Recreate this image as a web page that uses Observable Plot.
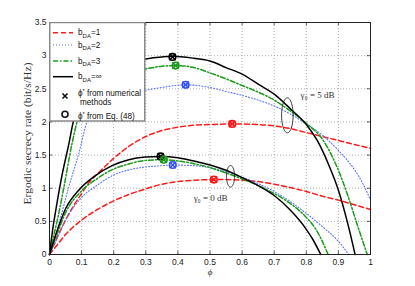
<!DOCTYPE html>
<html><head><meta charset="utf-8">
<script src="https://cdn.jsdelivr.net/npm/d3@7"></script>
<script src="https://cdn.jsdelivr.net/npm/@observablehq/plot@0.6"></script>
<style>
html,body{margin:0;padding:0;background:#fff;}
#wrap{position:relative;width:415px;height:286px;overflow:hidden;}
#legend{position:absolute;left:49px;top:22px;}
</style></head><body>
<div id="wrap"></div>
<script>
// ---- tick labels ----
const xTicks = [0,0.1,0.2,0.3,0.4,0.5,0.6,0.7,0.8,0.9,1];
const xTickLabels = ["0","0.1","0.2","0.3","0.4","0.5","0.6","0.7","0.8","0.9","1"];
const yTicks = [0,0.5,1,1.5,2,2.5,3,3.5];
const yTickLabels = ["0","0.5","1","1.5","2","2.5","3","3.5"];

// ---- gamma0 = 5 dB curves ----
const phi_g5_inf  = [0,0.005,0.01,0.02,0.04,0.06,0.074,0.1,0.15,0.2,0.25,0.3,0.35,0.383,0.45,0.5,0.55,0.6,0.65,0.7,0.75,0.8,0.834,0.87,0.9,0.93,0.952];
const rate_g5_inf = [0,0.2,0.38,0.68,1.22,1.66,2.0,2.3,2.62,2.8,2.9,2.95,2.98,2.99,2.96,2.92,2.82,2.72,2.57,2.42,2.2,1.96,1.72,1.35,0.97,0.45,0];
const phi_g5_b3   = [0,0.01,0.024,0.045,0.07,0.086,0.1,0.15,0.2,0.25,0.3,0.35,0.393,0.45,0.5,0.55,0.6,0.65,0.7,0.74,0.8,0.85,0.9,0.93,0.96,0.99];
const rate_g5_b3  = [0,0.22,0.51,1.02,1.67,2.0,2.18,2.5,2.66,2.75,2.8,2.84,2.85,2.82,2.74,2.65,2.55,2.45,2.33,2.2,1.98,1.74,1.27,0.88,0.43,0];
const phi_g5_b2   = [0,0.01,0.029,0.06,0.091,0.117,0.15,0.2,0.25,0.3,0.35,0.424,0.5,0.55,0.6,0.65,0.7,0.75,0.8,0.85,0.9,0.95,0.975,1.0];
const rate_g5_b2  = [0,0.16,0.46,1.02,1.52,2.0,2.2,2.36,2.44,2.48,2.52,2.56,2.52,2.46,2.4,2.33,2.24,2.12,1.97,1.8,1.57,1.28,1.08,0.82];
const phi_g5_b1   = [0,0.029,0.05,0.076,0.1,0.122,0.15,0.2,0.25,0.3,0.35,0.4,0.45,0.5,0.569,0.65,0.7,0.75,0.8,0.85,0.9,0.95,1.0];
const rate_g5_b1  = [0,0.31,0.52,0.74,0.92,1.08,1.22,1.45,1.64,1.78,1.87,1.92,1.95,1.96,1.97,1.96,1.94,1.9,1.84,1.78,1.72,1.66,1.6];

// ---- gamma0 = 0 dB curves ----
const phi_g0_inf  = [0,0.019,0.05,0.091,0.143,0.195,0.247,0.299,0.346,0.4,0.45,0.5,0.55,0.6,0.65,0.7,0.75,0.8,0.82,0.845];
const rate_g0_inf = [0,0.29,0.69,0.97,1.19,1.34,1.43,1.47,1.48,1.46,1.41,1.35,1.27,1.16,1.04,0.89,0.67,0.38,0.23,0];
const phi_g0_b3   = [0,0.02,0.05,0.1,0.15,0.2,0.25,0.3,0.355,0.4,0.45,0.5,0.55,0.6,0.65,0.7,0.75,0.8,0.83,0.868];
const rate_g0_b3  = [0,0.26,0.63,0.96,1.15,1.29,1.37,1.42,1.43,1.41,1.37,1.31,1.23,1.14,1.04,0.92,0.77,0.56,0.38,0];
const phi_g0_b2   = [0,0.02,0.05,0.1,0.15,0.2,0.25,0.3,0.35,0.384,0.45,0.5,0.55,0.6,0.65,0.7,0.75,0.8,0.85,0.9,0.932];
const rate_g0_b2  = [0,0.2,0.52,0.86,1.05,1.2,1.28,1.32,1.34,1.35,1.34,1.31,1.25,1.17,1.07,0.95,0.8,0.62,0.42,0.2,0];
const phi_g0_b1   = [0,0.02,0.05,0.1,0.15,0.2,0.25,0.3,0.35,0.4,0.45,0.512,0.55,0.6,0.65,0.7,0.75,0.8,0.85,0.9,0.95,1.0];
const rate_g0_b1  = [0,0.12,0.3,0.52,0.68,0.81,0.91,0.99,1.06,1.1,1.12,1.13,1.13,1.12,1.1,1.06,1.01,0.95,0.88,0.82,0.75,0.68];

// ---- optimum markers ----
const optSeries = ["inf","b3","b2","b1","inf","b3","b2","b1"];
const optPhi    = [0.383,0.393,0.424,0.569,0.346,0.356,0.384,0.512];
const optRate   = [2.98,2.85,2.56,1.97,1.48,1.43,1.35,1.13];

// ---- annotations ----
const annoText = ["γ₀ = 5 dB","γ₀ = 0 dB"];
const annoPhi  = [0.782,0.449];
const annoRate = [2.41,0.845];
const ellCenterPhi  = [0.741,0.564];
const ellCenterRate = [2.10,1.18];
const ellRadPhi     = [0.018,0.0125];
const ellRadRate    = [0.264,0.164];

const yTitle = "Ergodic secrecy rate (bit/s/Hz)";
const legendLabels = ["1","2","3","∞"];

// ---- styles ----
const styles = {
  b1:  {stroke:"#ff1a1a", strokeWidth:1.5, strokeDasharray:"5,3"},
  b2:  {stroke:"#5c70ff", strokeWidth:1.1, strokeDasharray:"1,2"},
  b3:  {stroke:"#199a19", strokeWidth:1.5, strokeDasharray:"5,2,1.5,2"},
  inf: {stroke:"#000000", strokeWidth:1.5}
};
const markerColor = {inf:"#000", b3:"#1a9a1a", b2:"#3050ff", b1:"#ff1010"};

const curves = [
  ["b1", phi_g5_b1, rate_g5_b1], ["b1", phi_g0_b1, rate_g0_b1],
  ["b2", phi_g5_b2, rate_g5_b2], ["b2", phi_g0_b2, rate_g0_b2],
  ["b3", phi_g5_b3, rate_g5_b3], ["b3", phi_g0_b3, rate_g0_b3],
  ["inf", phi_g5_inf, rate_g5_inf], ["inf", phi_g0_inf, rate_g0_inf]
];

const lineMarks = curves.map(([s, xs, ys]) =>
  Plot.line(xs.map((x,i)=>({x, y: ys[i]})), {x:"x", y:"y", curve:"monotone-x", ...styles[s]}));

const opt = optPhi.map((x,i)=>({x, y: optRate[i], s: optSeries[i]}));

const ell = [];
ellCenterPhi.forEach((cx,k)=>{
  for (let j=0;j<=60;j++){
    const t = j/60*2*Math.PI;
    ell.push({id:k, x: cx + ellRadPhi[k]*Math.cos(t), y: ellCenterRate[k] + ellRadRate[k]*Math.sin(t)});
  }
});

const chart = Plot.plot({
  width:415, height:286,
  marginLeft:49, marginRight:45, marginTop:22, marginBottom:32,
  x:{domain:[0,1]}, y:{domain:[0,3.5]},
  style:{fontFamily:"'Liberation Sans', Arial, sans-serif", fontSize:"8.5px", color:"#222", background:"#fff"},
  marks:[
    Plot.gridX(xTicks, {stroke:"#b0b0b0", strokeOpacity:1, strokeDasharray:"1,2"}),
    Plot.gridY(yTicks, {stroke:"#b0b0b0", strokeOpacity:1, strokeDasharray:"1,2"}),
    Plot.ruleX(xTicks, {y1:0, y2:0.05, stroke:"#333", strokeWidth:0.8}),
    Plot.ruleX(xTicks, {y1:3.45, y2:3.5, stroke:"#333", strokeWidth:0.8}),
    Plot.ruleY(yTicks, {x1:0, x2:0.01, stroke:"#333", strokeWidth:0.8}),
    Plot.ruleY(yTicks, {x1:0.99, x2:1, stroke:"#333", strokeWidth:0.8}),
    ...lineMarks,
    Plot.line(ell, {x:"x", y:"y", z:"id", stroke:"#222", strokeWidth:0.9}),
    Plot.dot(opt, {x:"x", y:"y", r:3.3, symbol:"circle", fill:"none", stroke:d=>markerColor[d.s], strokeWidth:1.6}),
    Plot.dot(opt, {x:"x", y:"y", r:3, symbol:"times", stroke:d=>markerColor[d.s], strokeWidth:1.5}),
    Plot.text(annoText, {x:(d,i)=>annoPhi[i], y:(d,i)=>annoRate[i], text:d=>d, textAnchor:"start", fontFamily:"Liberation Serif, Times New Roman, serif", fontSize:9, fill:"#333"}),
    Plot.frame({stroke:"#222", strokeWidth:1}),
    Plot.axisX(xTicks, {tickSize:0, tickPadding:4, tickFormat:d=>xTickLabels[xTicks.indexOf(d)], label:null}),
    Plot.axisY(yTicks, {tickSize:0, tickPadding:3, tickFormat:d=>yTickLabels[yTicks.indexOf(d)], label:null}),
    Plot.text([yTitle], {frameAnchor:"left", textAnchor:"middle", lineAnchor:"middle", rotate:-90, dx:-22, dy:-5, fontFamily:"Liberation Serif, Times New Roman, serif", fontSize:10.5, fill:"#333"}),
    Plot.text(["ϕ"], {frameAnchor:"bottom", textAnchor:"middle", dy:20, fontFamily:"Liberation Serif, Times New Roman, serif", fontStyle:"italic", fontSize:9, fill:"#333"})
  ]
});
// fix the y title length to match the reference span
chart.querySelectorAll("text").forEach(t => {
  if (t.textContent === yTitle) {
    t.setAttribute("textLength", "142");
    t.setAttribute("lengthAdjust", "spacingAndGlyphs");
  }
});
const wrap = document.getElementById("wrap");
wrap.appendChild(chart);

// ---- legend overlay ----
const rowY = [10.7, 23, 39, 54.7];
const order = ["b1","b2","b3","inf"];
let s = `<svg id="legend" width="97" height="101" font-family="Liberation Sans, Arial, sans-serif" font-size="8.2" fill="#111">`;
s += `<rect x="0.75" y="0.5" width="95" height="98.5" fill="#fff" stroke="#8a8a8a" stroke-width="1.5"/>`;
order.forEach((k,i)=>{
  const st = styles[k];
  s += `<line x1="4" x2="24" y1="${rowY[i]}" y2="${rowY[i]}" stroke="${st.stroke}" stroke-width="${st.strokeWidth}" ${st.strokeDasharray?`stroke-dasharray="${st.strokeDasharray}"`:""}/>`;
  s += `<text x="29" y="${rowY[i]+2.5}">b<tspan font-size="6" dy="2.5">DA</tspan><tspan dy="-2.5">=${legendLabels[i]}</tspan></text>`;
});
s += `<path d="M13.5,71.5 L18.5,76.5 M18.5,71.5 L13.5,76.5" stroke="#111" stroke-width="1.6"/>`;
s += `<text x="29" y="73.5">ϕ<tspan font-size="5.5" dy="-3">*</tspan><tspan dy="3"> from numerical</tspan></text>`;
s += `<text x="31" y="82.5">methods</text>`;
s += `<circle cx="16" cy="92.3" r="3" fill="none" stroke="#111" stroke-width="1.6"/>`;
s += `<text x="29" y="97">ϕ<tspan font-size="5.5" dy="-3">*</tspan><tspan dy="3"> from Eq. (48)</tspan></text>`;
s += `</svg>`;
wrap.insertAdjacentHTML("beforeend", s);
</script>
</body></html>
